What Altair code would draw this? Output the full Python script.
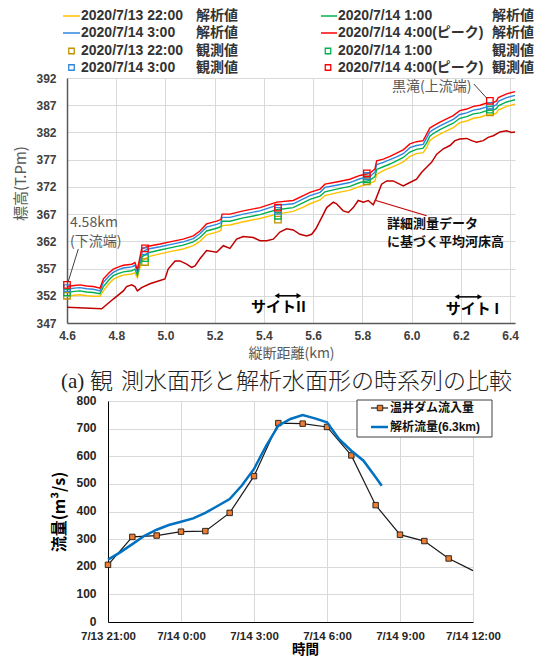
import altair as alt
import pandas as pd

# ---------------- data: (a) longitudinal water surface profiles ----------------
ws_km = [4.600, 4.630, 4.653, 4.680, 4.707, 4.734, 4.748, 4.770, 4.788, 4.810,
         4.829, 4.863, 4.876, 4.886, 4.903, 4.930, 4.978, 5.018, 5.072, 5.113,
         5.140, 5.167, 5.208, 5.225, 5.230, 5.262, 5.316, 5.384, 5.452, 5.519,
         5.560, 5.587, 5.628, 5.648, 5.695, 5.749, 5.790, 5.830, 5.851, 5.858,
         5.885, 5.912, 5.939, 5.966, 5.993, 6.020, 6.047, 6.061, 6.074, 6.088,
         6.115, 6.142, 6.169, 6.196, 6.224, 6.251, 6.278, 6.305, 6.332, 6.345,
         6.352, 6.386, 6.420]
ws_0400 = [353.7, 353.9, 354.0, 353.8, 353.7, 353.4, 355.1, 356.2, 356.9, 357.3,
           357.6, 357.8, 358.1, 356.8, 360.6, 361.1, 361.5, 361.9, 362.4, 363.0,
           363.9, 365.2, 365.7, 366.0, 367.0, 367.0, 367.6, 368.2, 369.2, 369.5,
           370.4, 371.0, 371.6, 372.5, 372.9, 373.4, 374.1, 374.5, 375.3, 376.8,
           377.1, 377.6, 378.2, 378.8, 379.9, 380.3, 380.5, 381.7, 382.8, 383.2,
           383.9, 384.5, 385.1, 386.0, 386.3, 386.8, 387.0, 387.4, 387.5, 387.8,
           388.4, 389.1, 389.5]
ws_0300 = [353.2, 353.4, 353.5, 353.3, 353.2, 352.9, 354.5, 355.6, 356.3, 356.8,
           357.1, 357.3, 357.6, 356.4, 360.0, 360.6, 361.0, 361.4, 361.9, 362.5,
           363.4, 364.6, 365.1, 365.4, 366.4, 366.4, 367.0, 367.6, 368.6, 368.9,
           369.8, 370.4, 371.0, 371.9, 372.3, 372.8, 373.5, 373.9, 374.7, 376.1,
           376.5, 377.0, 377.5, 378.1, 379.2, 379.6, 379.8, 381.0, 382.1, 382.5,
           383.2, 383.8, 384.4, 385.3, 385.6, 386.1, 386.3, 386.7, 386.8, 387.1,
           387.7, 388.4, 388.8]
ws_0100 = [352.6, 352.8, 352.9, 352.7, 352.6, 352.4, 353.7, 354.9, 355.7, 356.1,
           356.4, 356.6, 356.9, 355.8, 359.1, 359.9, 360.4, 360.8, 361.3, 361.9,
           362.7, 363.9, 364.4, 364.7, 365.7, 365.7, 366.3, 366.9, 367.8, 368.2,
           369.1, 369.7, 370.3, 371.1, 371.6, 372.1, 372.8, 373.2, 373.9, 375.2,
           375.7, 376.2, 376.8, 377.4, 378.4, 378.9, 379.1, 380.1, 381.3, 381.8,
           382.5, 383.1, 383.7, 384.6, 384.9, 385.4, 385.6, 386.0, 386.1, 386.4,
           386.9, 387.6, 388.0]
ws_2200 = [351.9, 352.1, 352.2, 352.0, 351.9, 351.9, 352.9, 354.2, 355.0, 355.5,
           355.8, 356.0, 356.2, 355.3, 358.3, 359.2, 359.7, 360.1, 360.6, 361.2,
           362.0, 363.2, 363.7, 364.0, 364.9, 365.0, 365.6, 366.2, 367.0, 367.5,
           368.3, 368.9, 369.6, 370.4, 370.9, 371.4, 372.1, 372.6, 373.1, 374.3,
           375.0, 375.5, 376.0, 376.6, 377.6, 378.1, 378.3, 379.2, 380.5, 381.0,
           381.7, 382.3, 382.9, 383.8, 384.1, 384.6, 384.8, 385.2, 385.3, 385.6,
           386.1, 386.8, 387.2]

bed_km = [4.600, 4.741, 4.788, 4.829, 4.842, 4.863, 4.876, 4.886, 4.903, 4.937,
          4.978, 4.998, 5.011, 5.039, 5.059, 5.086, 5.106, 5.120, 5.140, 5.167,
          5.208, 5.235, 5.262, 5.289, 5.316, 5.357, 5.384, 5.411, 5.438, 5.465,
          5.492, 5.519, 5.546, 5.574, 5.594, 5.611, 5.635, 5.655, 5.682, 5.695,
          5.722, 5.743, 5.763, 5.783, 5.804, 5.824, 5.844, 5.855, 5.878, 5.899,
          5.925, 5.966, 5.993, 6.020, 6.041, 6.061, 6.081, 6.102, 6.129, 6.156,
          6.176, 6.196, 6.224, 6.244, 6.264, 6.291, 6.311, 6.332, 6.359, 6.386,
          6.406, 6.420]
bed_z = [349.9, 349.6, 351.4, 352.9, 353.7, 354.0, 353.7, 352.9, 353.5, 354.2,
         354.8, 355.1, 356.9, 358.4, 358.4, 357.8, 357.2, 357.5, 358.8, 360.3,
         360.0, 361.2, 360.7, 362.4, 362.9, 362.7, 362.1, 362.1, 362.4, 363.7,
         364.3, 364.1, 363.3, 363.0, 363.3, 364.3, 366.4, 368.2, 369.2, 368.9,
         367.6, 367.3, 368.2, 369.5, 369.2, 369.5, 368.7, 369.8, 372.5, 373.1,
         373.1, 372.2, 372.8, 373.4, 374.7, 375.6, 376.5, 378.0, 379.0, 379.6,
         380.5, 380.8, 380.9, 380.5, 380.2, 380.5, 381.1, 381.4, 382.1, 382.3,
         382.0, 382.1]

obs_km = [4.600, 4.917, 5.457, 5.818, 6.318]
obs_2200 = [352.0, 358.2, 366.0, 373.0, 385.7]
obs_0100 = [352.6, 358.9, 366.7, 373.4, 386.2]
obs_0300 = [353.4, 360.2, 367.6, 374.0, 386.9]
obs_0400 = [354.0, 360.7, 368.2, 374.5, 387.8]

x_ticks = [4.6, 4.8, 5.0, 5.2, 5.4, 5.6, 5.8, 6.0, 6.2, 6.4]
y_ticks = [347, 352, 357, 362, 367, 372, 377, 382, 387, 392]

leg_times_left = ["2020/7/13 22:00", "2020/7/14 3:00", "2020/7/13 22:00", "2020/7/14 3:00"]
leg_times_right = ["2020/7/14 1:00", "2020/7/14  4:00(ピーク)", "2020/7/14 1:00", "2020/7/14  4:00(ピーク)"]
leg_kinds = ["解析値", "解析値", "観測値", "観測値"]

# ---------------- data: (b) hydrograph ----------------
time_labels = ["7/13 21:00", "7/14 0:00", "7/14 3:00", "7/14 6:00", "7/14 9:00", "7/14 12:00"]
inflow_hour = [0, 1, 2, 3, 4, 5, 6, 7, 8, 9, 10, 11, 12, 13, 14, 15]
inflow_q = [207, 308, 313, 327, 329, 395, 528, 720, 718, 706, 603, 423, 316, 293, 230, 186]
calc_hour = [0, 0.5, 1, 1.5, 2, 2.5, 3, 3.5, 4, 4.5, 5, 5.5, 6, 6.5, 7, 7.5, 8, 8.5,
             9, 9.5, 10, 10.5, 11, 11.25]
calc_q = [226, 252, 282, 312, 334, 351, 363, 375, 395, 420, 445, 494, 554, 638, 711,
          735, 749, 737, 723, 662, 620, 584, 524, 493]

# ---------------- styles ----------------
F_LAT = "Liberation Sans, Noto Sans CJK JP, sans-serif"
F_JP = "Noto Sans CJK JP, sans-serif"
C_2200, C_0100, C_0300, C_0400 = "#FFC000", "#00B050", "#2E86DE", "#FF0000"
C_2200_OBS = "#BF9000"
C_BED = "#C00000"
GRID = "#d9d9d9"

# ================= top chart =================
xs = alt.Scale(domain=[4.6, 6.42], nice=False, zero=False)
ys = alt.Scale(domain=[347, 392], nice=False, zero=False)
x_axis = alt.Axis(values=x_ticks, format=".1f", title="縦断距離(km)", titleFont=F_JP,
                  titleFontSize=14, titleFontWeight="normal", titleColor="#595959",
                  titleY=30, titleBaseline="middle", labelFont=F_LAT, labelFontSize=12,
                  labelFontWeight="bold", labelColor="#404040", labelPadding=7,
                  ticks=False, domainColor="#595959", domainWidth=1.5, gridColor=GRID,
                  labelFlush=False, labelOverlap=False, labelBound=False)
y_axis = alt.Axis(values=y_ticks, title="標高(T.Pm)", titleFont=F_JP, titleFontSize=15,
                  titleFontWeight="normal", titleColor="#595959", titleX=-39, titleY=105,
                  titleAlign="center", titleBaseline="bottom", labelFont=F_LAT,
                  labelFontSize=12, labelFontWeight="bold", labelColor="#404040",
                  labelPadding=11, ticks=False, domainColor="#595959", domainWidth=1.5,
                  gridColor=GRID, labelOverlap=False)
X = alt.X("km:Q", scale=xs, axis=x_axis)
Y = alt.Y("v:Q", scale=ys, axis=y_axis)

layers = []
bed_df = pd.DataFrame({"km": bed_km, "v": bed_z})
layers.append(alt.Chart(bed_df).mark_line(color=C_BED, strokeWidth=1.5).encode(x=X, y=Y))
for vals, col in [(ws_2200, C_2200), (ws_0100, C_0100), (ws_0300, C_0300), (ws_0400, C_0400)]:
    d = pd.DataFrame({"km": ws_km, "v": vals})
    layers.append(alt.Chart(d).mark_line(color=col, strokeWidth=1.4).encode(x=X, y=Y))
for vals, col in [(obs_2200, C_2200_OBS), (obs_0100, C_0100), (obs_0300, C_0300), (obs_0400, C_0400)]:
    d = pd.DataFrame({"km": obs_km, "v": vals})
    layers.append(alt.Chart(d).mark_point(shape="square", filled=False, size=42,
                                          strokeWidth=1.3, color=col, opacity=1).encode(x=X, y=Y))

# annotations (data coordinates)
gray_txt = pd.DataFrame({"km": [4.612, 4.612, 5.920], "v": [365.3, 361.9, 390.3],
                         "t": ["4.58km", "(下流端)", "黒滝(上流端)"]})
layers.append(alt.Chart(gray_txt).mark_text(align="left", baseline="middle", font=F_JP,
                                            fontSize=14, color="#595959").encode(x=X, y=Y, text="t:N"))
gray_lead = pd.DataFrame({"km": [4.646, 6.253], "v": [360.6, 390.9],
                          "km2": [4.605, 6.305], "v2": [354.6, 388.3]})
layers.append(alt.Chart(gray_lead).mark_rule(color="#404040", strokeWidth=1).encode(
    x=X, y=Y, x2="km2:Q", y2="v2:Q"))
bed_txt = pd.DataFrame({"km": [5.90, 5.90], "v": [365.2, 361.9],
                        "t": ["詳細測量データ", "に基づく平均河床高"]})
layers.append(alt.Chart(bed_txt).mark_text(align="left", baseline="middle", font=F_JP,
                                           fontSize=13, fontWeight="bold", color="#111").encode(
    x=X, y=Y, text="t:N"))
bed_lead = pd.DataFrame({"km": [5.855], "v": [369.5], "km2": [6.061], "v2": [366.7]})
layers.append(alt.Chart(bed_lead).mark_rule(color=C_BED, strokeWidth=1.2).encode(
    x=X, y=Y, x2="km2:Q", y2="v2:Q"))
site_txt = pd.DataFrame({"km": [5.459, 6.247], "v": [349.9, 349.6], "t": ["サイトII", "サイト I"]})
layers.append(alt.Chart(site_txt).mark_text(align="center", baseline="middle", font=F_JP,
                                            fontSize=15, fontWeight="bold", color="#000").encode(
    x=X, y=Y, text="t:N"))
site_arr = pd.DataFrame({"km": [5.453, 6.184], "km2": [5.542, 6.277], "v": [352.0, 351.8]})
layers.append(alt.Chart(site_arr).mark_rule(color="#000", strokeWidth=1.5).encode(
    x=X, y=Y, x2="km2:Q"))
arr_l = pd.DataFrame({"km": [5.453, 6.184], "v": [352.0, 351.8]})
arr_r = pd.DataFrame({"km": [5.542, 6.277], "v": [352.0, 351.8]})
layers.append(alt.Chart(arr_l).mark_point(shape="triangle-left", filled=True, size=30,
                                          color="#000", opacity=1).encode(x=X, y=Y))
layers.append(alt.Chart(arr_r).mark_point(shape="triangle-right", filled=True, size=30,
                                          color="#000", opacity=1).encode(x=X, y=Y))

# legend (pixel layout relative to the plot area)
row_y = [-62, -45, -27, -10.5]
leg_line_rows, leg_sq_rows, leg_txt_rows = [], [], []
left_cols = [C_2200, C_0300, C_2200_OBS, C_0300]
right_cols = [C_0100, C_0400, C_0100, C_0400]
for i in range(4):
    for times, cols, x_sym0, x_sym1, x_sq, x_t, x_k in [
        (leg_times_left, left_cols, -4, 13, 4.5, 14, 129),
        (leg_times_right, right_cols, 254, 270, 261, 271, 425),
    ]:
        if leg_kinds[i] == "解析値":
            leg_line_rows.append({"x0": x_sym0, "x1": x_sym1, "y": row_y[i], "c": cols[i]})
        else:
            leg_sq_rows.append({"x": x_sq, "y": row_y[i], "c": cols[i]})
        leg_txt_rows.append({"x": x_t, "y": row_y[i], "t": times[i]})
        leg_txt_rows.append({"x": x_k, "y": row_y[i], "t": leg_kinds[i]})
PX = lambda f: alt.X(f, scale=None, axis=None)
PY = lambda f: alt.Y(f, scale=None, axis=None)
layers.append(alt.Chart(pd.DataFrame(leg_line_rows)).mark_rule(strokeWidth=1.5).encode(
    x=PX("x0:Q"), x2="x1:Q", y=PY("y:Q"), color=alt.Color("c:N", scale=None)))
layers.append(alt.Chart(pd.DataFrame(leg_sq_rows)).mark_point(
    shape="square", filled=False, size=30, strokeWidth=1.3, opacity=1).encode(
    x=PX("x:Q"), y=PY("y:Q"), color=alt.Color("c:N", scale=None)))
layers.append(alt.Chart(pd.DataFrame(leg_txt_rows)).mark_text(
    align="left", baseline="middle", font=F_LAT, fontSize=14, fontWeight="bold",
    color="#333333").encode(x=PX("x:Q"), y=PY("y:Q"), text="t:N"))

# caption
cap_a = pd.DataFrame({"x": [-6], "y": [304], "t": ["(a)"]})
cap_m = pd.DataFrame({"x": [23, 54], "y": [303.5, 303.5],
                      "t": ["観", "測水面形と解析水面形の時系列の比較"]})
layers.append(alt.Chart(cap_a).mark_text(
    align="left", baseline="middle", font="Liberation Serif, serif", fontSize=21,
    color="#222").encode(x=PX("x:Q"), y=PY("y:Q"), text="t:N"))
layers.append(alt.Chart(cap_m).mark_text(
    align="left", baseline="middle", font=F_JP, fontSize=23, fontWeight=300,
    color="#222").encode(x=PX("x:Q"), y=PY("y:Q"), text="t:N"))

top = alt.layer(*layers).properties(width=448, height=245)

# ================= bottom chart =================
bxs = alt.Scale(domain=[0, 15], nice=False, zero=False)
bys = alt.Scale(domain=[0, 800], nice=False)
label_expr = "[" + ",".join("'%s'" % s for s in time_labels) + "][round(datum.value / 3)]"
bx_axis = alt.Axis(values=[0, 3, 6, 9, 12, 15], labelExpr=label_expr, title="時間",
                   titleFont=F_JP, titleFontSize=13.5, titleFontWeight="bold", titleColor="#000",
                   titleX=197, titleAlign="center", titleY=27.5, titleBaseline="middle",
                   labelFont=F_LAT, labelFontSize=11.5,
                   labelFontWeight="bold", labelColor="#262626", labelPadding=8, ticks=False,
                   domainColor="#000", domainWidth=1, gridColor=GRID, labelFlush=False,
                   labelOverlap=False, labelBound=False)
by_axis = alt.Axis(values=list(range(0, 801, 100)), title="流量(m³/s)", titleFont=F_JP,
                   titleFontSize=16, titleFontWeight="bold", titleColor="#000", titleX=-41,
                   titleBaseline="bottom", labelFont=F_LAT, labelFontSize=12,
                   labelFontWeight="bold", labelColor="#262626", labelPadding=12, ticks=False,
                   labelOffset=-1,
                   domainColor="#000", domainWidth=1, gridColor=GRID, labelOverlap=False)
BX = alt.X("h:Q", scale=bxs, axis=bx_axis)
BY = alt.Y("q:Q", scale=bys, axis=by_axis)

inflow_df = pd.DataFrame({"h": inflow_hour, "q": inflow_q})
calc_df = pd.DataFrame({"h": calc_hour, "q": calc_q})
b_layers = [
    alt.Chart(inflow_df).mark_line(color="#1a1a1a", strokeWidth=1.2).encode(x=BX, y=BY),
    alt.Chart(inflow_df[inflow_df["h"] < 15]).mark_square(size=30, fill="#ED7D31", stroke="#1a1a1a",
                                                         strokeWidth=0.9, opacity=1).encode(x=BX, y=BY),
    alt.Chart(calc_df).mark_line(color="#0070C0", strokeWidth=2.5).encode(x=BX, y=BY),
]
# legend box
b_layers.append(alt.Chart(pd.DataFrame({"x": [249], "x2": [384], "y": [-1], "y2": [36]})).mark_rect(
    fill="white", stroke="#404040", strokeWidth=1).encode(x=PX("x:Q"), x2="x2:Q", y=PY("y:Q"), y2="y2:Q"))
b_layers.append(alt.Chart(pd.DataFrame({"x": [263, 263], "x2": [280, 280], "y": [7, 26],
                                        "c": ["#1a1a1a", "#0070C0"], "w": [1.2, 2.5]})).mark_rule().encode(
    x=PX("x:Q"), x2="x2:Q", y=PY("y:Q"), color=alt.Color("c:N", scale=None),
    strokeWidth=alt.StrokeWidth("w:Q", scale=None)))
b_layers.append(alt.Chart(pd.DataFrame({"x": [272], "y": [7]})).mark_square(
    size=30, fill="#ED7D31", stroke="#1a1a1a", strokeWidth=0.9, opacity=1).encode(x=PX("x:Q"), y=PY("y:Q")))
b_layers.append(alt.Chart(pd.DataFrame({"x": [282, 282], "y": [7, 26],
                                        "t": ["温井ダム流入量", "解析流量(6.3km)"]})).mark_text(
    align="left", baseline="middle", font=F_LAT, fontSize=12, fontWeight="bold", color="#111").encode(
    x=PX("x:Q"), y=PY("y:Q"), text="t:N"))

bottom = alt.layer(*b_layers).properties(width=365, height=221)
spacer = alt.Chart(pd.DataFrame({"a": [0]})).mark_point(opacity=0).encode(
    x=alt.value(0), y=alt.value(0)).properties(width=41, height=221)
bottom_row = alt.hconcat(spacer, bottom, spacing=0, bounds="flush")

chart = alt.vconcat(top, bottom_row, spacing=78, bounds="flush").properties(
    padding={"left": 5, "top": 1, "right": 0, "bottom": 0}
).configure_view(stroke=None)

chart.save("out.html", embed_options={"renderer": "svg", "actions": False})
